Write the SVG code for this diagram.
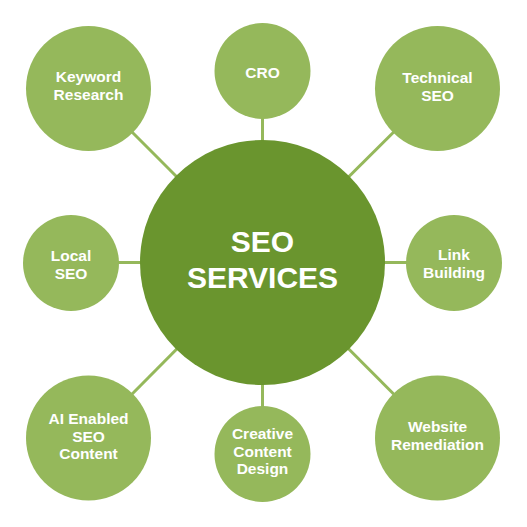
<svg xmlns="http://www.w3.org/2000/svg" width="527" height="527" viewBox="0 0 527 527">
<style>
.sat{fill:#95B85B}
.hub{fill:#6A952E}
.t{font-family:"Liberation Sans",Arial,sans-serif;font-weight:bold;fill:#fff;text-anchor:middle;font-size:15.5px}
.th{font-family:"Liberation Sans",Arial,sans-serif;font-weight:bold;fill:#fff;text-anchor:middle;font-size:30px}
.c{stroke:#95B85B;stroke-width:3;fill:none}
</style>
<rect width="527" height="527" fill="#fff"/>
<g id="connectors">
<line class="c" x1="262.5" y1="262.5" x2="88.5" y2="88.5"/>
<line class="c" x1="262.5" y1="262.5" x2="262.5" y2="71"/>
<line class="c" x1="262.5" y1="262.5" x2="437.5" y2="88.5"/>
<line class="c" x1="262.5" y1="262.5" x2="71" y2="262.5"/>
<line class="c" x1="262.5" y1="262.5" x2="454" y2="262.5"/>
<line class="c" x1="262.5" y1="262.5" x2="88.5" y2="438"/>
<line class="c" x1="262.5" y1="262.5" x2="262.5" y2="454"/>
<line class="c" x1="262.5" y1="262.5" x2="437.5" y2="438"/>
</g>
<g id="hub"><circle class="hub" cx="262.5" cy="262.5" r="122.5"/>
<text class="th" x="262.5" y="252">SEO</text><text class="th" x="262.5" y="288">SERVICES</text></g>
<g id="keyword"><circle class="sat" cx="88.5" cy="88.5" r="62.5"/>
<text class="t" x="88.5" y="82">Keyword</text><text class="t" x="88.5" y="100">Research</text></g>
<g id="cro"><circle class="sat" cx="262.5" cy="71" r="48"/>
<text class="t" x="262.5" y="78">CRO</text></g>
<g id="technical"><circle class="sat" cx="437.5" cy="88.5" r="62.5"/>
<text class="t" x="437.5" y="83">Technical</text><text class="t" x="437.5" y="100.5">SEO</text></g>
<g id="local"><circle class="sat" cx="71" cy="263" r="48"/>
<text class="t" x="71" y="261">Local</text><text class="t" x="71" y="278.5">SEO</text></g>
<g id="link"><circle class="sat" cx="454" cy="263" r="48"/>
<text class="t" x="454" y="260">Link</text><text class="t" x="454" y="277.5">Building</text></g>
<g id="ai"><circle class="sat" cx="88.5" cy="438" r="62.5"/>
<text class="t" x="88.5" y="424">AI Enabled</text><text class="t" x="88.5" y="441.5">SEO</text><text class="t" x="88.5" y="459">Content</text></g>
<g id="creative"><circle class="sat" cx="262.5" cy="454" r="48"/>
<text class="t" x="262.5" y="439">Creative</text><text class="t" x="262.5" y="456.5">Content</text><text class="t" x="262.5" y="474">Design</text></g>
<g id="website"><circle class="sat" cx="437.5" cy="438" r="62.5"/>
<text class="t" x="437.5" y="432">Website</text><text class="t" x="437.5" y="450">Remediation</text></g>
</svg>
